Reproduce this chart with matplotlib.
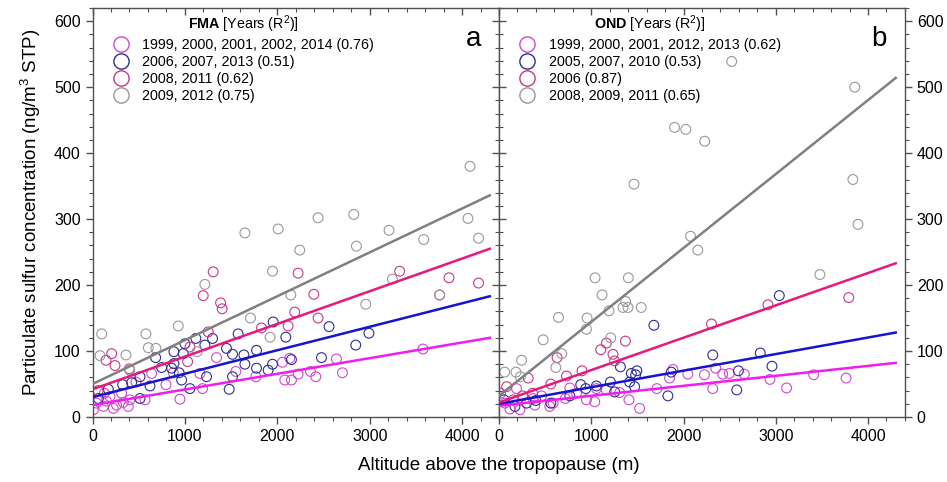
import numpy as np
import matplotlib
matplotlib.use("Agg")
import matplotlib.pyplot as plt
from matplotlib.ticker import MultipleLocator
from matplotlib import lines as mlines

plt.rcParams['font.family'] = ['Liberation Sans', 'DejaVu Sans']
plt.rcParams['mathtext.fontset'] = 'custom'
plt.rcParams['mathtext.rm'] = 'Liberation Sans'
plt.rcParams['mathtext.bf'] = 'Liberation Sans:bold'

# --- FMA panel (a) ---
fma_labels = ['1999, 2000, 2001, 2002, 2014 (0.76)', '2006, 2007, 2013 (0.51)',
              '2008, 2011 (0.62)', '2009, 2012 (0.75)']
fma_mag_x = [3576, 2640, 2705, 2416, 2359, 2225, 2153, 2081, 2056, 2135, 1768, 1551, 874, 946, 1191,
             795, 568, 405, 470, 189, 117, 225, 45, 9, 333, 387, 315, 128, 1162, 1342, 640, 260, 150]
fma_mag_y = [103, 88, 67, 61, 69, 65, 56, 56, 83, 89, 61, 69, 67, 27, 43,
             49, 26, 26, 53, 31, 16, 13, 21, 11, 22, 16, 36, 36, 66, 90, 66, 18, 24]
fma_blue_x = [1955, 2092, 2153, 1948, 1901, 1775, 1649, 1638, 1576, 1515, 1450, 1515, 1479, 2560, 2992,
              2849, 2478, 1299, 1216, 1119, 1000, 881, 982, 881, 856, 938, 964, 748, 683, 514,
              622, 423, 326, 171, 63, 514, 1054, 1234, 1775]
fma_blue_y = [144, 121, 87, 80, 71, 74, 80, 94, 126, 95, 104, 61, 42, 137, 127,
              109, 90, 119, 109, 119, 111, 99, 96, 81, 74, 67, 56, 75, 90, 61,
              47, 52, 49, 42, 28, 28, 43, 61, 101]
fma_red_x = [1306, 1198, 1386, 1403, 2225, 2395, 3324, 3858, 2441, 2117, 2189, 1829, 1252, 207, 146,
             243, 398, 1029, 1054, 3757, 4178, 60]
fma_red_y = [220, 184, 173, 164, 218, 186, 221, 211, 150, 138, 159, 135, 129, 96, 86,
             78, 73, 84, 106, 185, 203, 40]
fma_gray_x = [99, 81, 362, 578, 604, 686, 928, 1133, 1216, 1649, 1710, 1948, 2009, 2243, 2146,
              2441, 1922, 2827, 2856, 2957, 3209, 3245, 3584, 3757, 4063, 4086, 4178, 402]
fma_gray_y = [126, 93, 94, 126, 105, 104, 138, 99, 201, 279, 150, 221, 285, 253, 185,
              302, 121, 307, 259, 171, 283, 209, 269, 185, 301, 380, 271, 71]
# regression lines read at x = 0 and x = 4300
fma_fit_start = [18, 30, 42, 50]
fma_fit_end = [120, 183, 255, 336]

# --- OND panel (b) ---
ond_labels = ['1999, 2000, 2001, 2012, 2013 (0.62)', '2005, 2007, 2010 (0.53)',
              '2006 (0.87)', '2008, 2009, 2011 (0.65)']
ond_mag_x = [3762, 3411, 3117, 2937, 2659, 2497, 2425, 2349, 2317, 2227, 2047, 1885, 1849, 1711, 1524,
             1409, 1308, 1056, 1038, 840, 768, 587, 462, 551, 389, 227, 119, 65, 191, 18,
             371, 719, 948, 1164]
ond_mag_y = [59, 64, 44, 57, 65, 66, 65, 74, 43, 64, 65, 72, 59, 43, 13,
             26, 37, 43, 23, 36, 44, 21, 32, 16, 18, 11, 12, 21, 43, 36,
             28, 28, 26, 41]
ond_blue_x = [3038, 1679, 2317, 2832, 2959, 2595, 2577, 1831, 1867, 1495, 1481, 1470, 1416, 1316, 1208,
              1254, 886, 768, 562, 400, 299, 173, 54, 941, 1056, 1435]
ond_blue_y = [184, 139, 94, 97, 77, 70, 41, 32, 68, 70, 64, 46, 53, 76, 53,
              38, 49, 32, 21, 25, 21, 16, 26, 43, 47, 66]
ond_red_x = [3791, 2915, 2303, 1370, 1164, 1103, 1236, 1254, 630, 900, 732, 562, 317, 364, 83,
             256, 155]
ond_red_y = [181, 170, 141, 115, 112, 102, 95, 85, 90, 70, 62, 50, 59, 36, 46,
             32, 26]
ond_gray_x = [2522, 3856, 3836, 3891, 3478, 1903, 2025, 2230, 1463, 2076, 2155, 1041, 1402, 1117, 1373,
              1344, 1398, 1542, 1193, 645, 955, 948, 479, 681, 616, 245, 62, 184, 232, 1211]
ond_gray_y = [539, 500, 360, 292, 216, 439, 436, 418, 353, 274, 253, 211, 211, 185, 175,
              166, 166, 166, 161, 151, 150, 133, 117, 96, 75, 86, 68, 68, 61, 120]
ond_fit_start = [17, 20, 22, 32]
ond_fit_end = [82, 128, 233, 514]

fit_x = [0, 4300]
marker_colors = ['#D048D0', '#2E2E96', '#C83888', '#999999']
line_colors = ['#F01CF0', '#1414D2', '#E8187C', '#808080']
spine_col = '#505050'

fig = plt.figure(figsize=(9.47, 4.82), dpi=100)
ax1 = fig.add_axes([0.0977, 0.1349, 0.4293, 0.8485])
ax2 = fig.add_axes([0.5269, 0.1349, 0.4287, 0.8485])

panels = [
    (ax1, [(fma_mag_x, fma_mag_y), (fma_blue_x, fma_blue_y), (fma_red_x, fma_red_y), (fma_gray_x, fma_gray_y)],
     fma_labels, fma_fit_start, fma_fit_end, r'$\bf{FMA}$ [Years (R$^2$)]', 'a'),
    (ax2, [(ond_mag_x, ond_mag_y), (ond_blue_x, ond_blue_y), (ond_red_x, ond_red_y), (ond_gray_x, ond_gray_y)],
     ond_labels, ond_fit_start, ond_fit_end, r'$\bf{OND}$ [Years (R$^2$)]', 'b'),
]

for ax, series, labels, y0, y1, title, letter in panels:
    handles = []
    for i, (xs, ys) in enumerate(series):
        ax.scatter(xs, ys, s=50, facecolors='none', edgecolors=marker_colors[i], linewidths=0.8, zorder=2)
        h, = ax.plot([], [], 'o', ms=11, mfc='none', mec=marker_colors[i], mew=1.0, ls='none')
        handles.append(h)
    for i in range(4):
        ax.plot(fit_x, [y0[i], y1[i]], color=line_colors[i], lw=1.8, zorder=3)
    ax.set_xlim(0, 4400)
    ax.set_ylim(0, 620)
    ax.xaxis.set_major_locator(MultipleLocator(1000))
    ax.xaxis.set_minor_locator(MultipleLocator(200))
    ax.yaxis.set_major_locator(MultipleLocator(100))
    ax.yaxis.set_minor_locator(MultipleLocator(20))
    for sp in ax.spines.values():
        sp.set_color(spine_col)
        sp.set_linewidth(1.0)
    ax.legend(handles, labels, title=title, loc='upper left', bbox_to_anchor=(0.02, 1.015),
              frameon=False, fontsize=10.3, title_fontsize=10.3, handletextpad=0.9,
              labelspacing=0.22, borderaxespad=0.4, handlelength=1.2)
    ax.text(0.955, 0.925, letter, transform=ax.transAxes, fontsize=20, ha='right', va='center')

ax1.tick_params(which='both', top=True, right=True, direction='out', labelsize=11.5,
                colors=spine_col, labelcolor='black')
ax1.tick_params(which='major', length=5, width=1.0)
ax1.tick_params(which='minor', length=3, width=0.8)

ax2.yaxis.tick_right()
ax2.tick_params(which='both', top=True, left=True, right=True, labelleft=False, labelright=True,
                direction='out', labelsize=11.5, colors=spine_col, labelcolor='black')
ax2.tick_params(which='major', length=5, width=1.0)
ax2.tick_params(which='minor', length=3, width=0.8)

# top ticks point inward, ticks on the shared middle spine point into each panel
for ax in (ax1, ax2):
    for t in ax.xaxis.get_major_ticks() + ax.xaxis.get_minor_ticks():
        t.tick2line.set_marker(mlines.TICKDOWN)
for t in ax1.yaxis.get_major_ticks() + ax1.yaxis.get_minor_ticks():
    t.tick2line.set_marker(mlines.TICKLEFT)
for t in ax2.yaxis.get_major_ticks() + ax2.yaxis.get_minor_ticks():
    t.tick1line.set_marker(mlines.TICKRIGHT)

ax1.set_ylabel('Particulate sulfur concentration (ng/m$^3$ STP)', fontsize=13.5, labelpad=8)
fig.text(0.527, 0.035, 'Altitude above the tropopause (m)', fontsize=13.5, ha='center', va='center')

fig.savefig('out.png', dpi=100)
